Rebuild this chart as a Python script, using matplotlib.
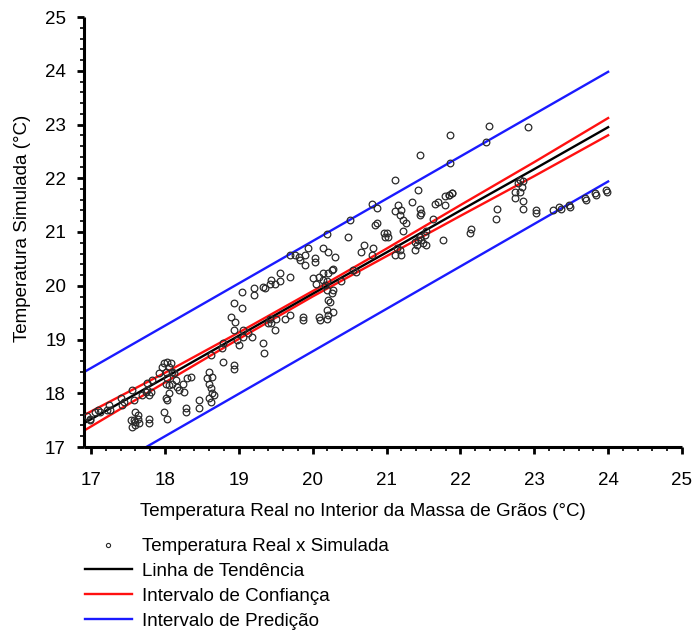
import numpy as np
import matplotlib
matplotlib.use("Agg")
import matplotlib.pyplot as plt
from matplotlib.lines import Line2D
from matplotlib.ticker import MultipleLocator

plt.rcParams['font.family'] = ['Liberation Sans', 'DejaVu Sans']

real_temp = [
    16.95, 16.99, 17.09, 17.12, 17.24, 17.26, 17.40, 17.42, 17.56, 17.58, 17.60, 17.63, 17.58, 17.56, 17.60, 17.65,
    17.76, 17.74, 17.78, 17.83, 17.92, 17.96, 17.99, 18.03, 18.06, 18.08, 18.01, 18.10, 18.12, 18.03, 18.01, 18.06,
    18.10, 18.15, 18.17, 18.19, 18.26, 18.24, 18.30, 18.35, 18.06, 18.01, 18.03, 17.99, 18.03, 17.78, 17.78, 18.28,
    18.28, 18.46, 18.46, 18.60, 18.57, 18.60, 18.64, 18.62, 18.64, 18.66, 18.60, 18.62, 18.78, 18.93, 18.93, 18.62,
    18.78, 18.98, 19.00, 19.12, 19.18, 19.34, 17.76, 17.81, 17.69, 17.54, 17.60, 17.63, 17.45, 17.22, 17.06, 16.99,
    20.19, 20.48, 19.94, 19.69, 19.76, 19.81, 19.90, 19.83, 19.90, 20.03, 20.03, 20.14, 20.21, 20.30, 19.56, 19.69,
    19.44, 19.42, 19.33, 19.35, 19.56, 19.49, 19.20, 19.20, 19.04, 18.93, 19.04, 18.90, 18.95, 18.93, 19.06, 19.06,
    18.77, 19.33, 19.42, 19.44, 19.40, 19.49, 19.51, 19.63, 19.69, 19.87, 19.87, 20.08, 20.10, 20.19, 20.21, 20.28,
    20.19, 20.21, 20.23, 20.26, 20.19, 20.28, 20.17, 20.08, 20.01, 20.05, 20.14, 20.21, 20.26, 20.28, 20.14, 20.19,
    20.39, 20.55, 20.59,
    20.51, 20.84, 20.87, 20.69, 20.82, 20.66, 20.80, 20.80, 20.87,
    21.11, 21.43, 21.16, 21.20, 21.11, 21.18, 21.34, 21.23, 21.27, 21.23, 20.96, 21.00, 20.98, 21.02, 21.45, 21.47,
    21.45, 21.65, 21.70, 21.79, 21.84, 21.88, 21.79, 21.63, 22.49, 22.48, 22.15, 22.13, 21.54, 21.52, 21.45, 21.43,
    21.47, 21.38, 21.41, 21.50, 21.54, 21.77, 21.38, 21.18, 21.11, 21.20, 21.14, 21.45,
    22.39, 22.92, 21.86, 22.35, 21.86, 21.88, 21.84, 22.81, 22.85, 22.78, 22.83, 22.74, 22.81, 22.74, 22.85, 22.85,
    23.03, 23.03, 23.26, 23.34, 23.36, 23.47, 23.48, 23.69, 23.70, 23.82, 23.84, 23.97, 23.98,
]
sim_temp = [
    17.58, 17.53, 17.69, 17.66, 17.78, 17.69, 17.91, 17.78, 18.06, 17.88, 17.66, 17.60, 17.50, 17.38, 17.41, 17.44,
    18.19, 18.03, 17.97, 18.25, 18.37, 18.49, 18.56, 18.59, 18.49, 18.56, 18.40, 18.40, 18.37, 18.28, 18.18, 18.15,
    18.18, 18.25, 18.12, 18.06, 18.03, 18.18, 18.28, 18.31, 18.00, 17.91, 17.88, 17.66, 17.53, 17.53, 17.44, 17.72,
    17.66, 17.88, 17.72, 18.40, 18.28, 18.18, 18.31, 18.09, 18.00, 17.97, 17.91, 17.84, 18.59, 18.53, 18.46, 18.71,
    18.93, 18.99, 18.90, 19.12, 19.05, 18.74, 18.06, 18.03, 17.97, 17.50, 17.47, 17.53, 17.84, 17.69, 17.66, 17.50,
    20.96, 20.91, 20.70, 20.57, 20.57, 20.54, 20.57, 20.48, 20.39, 20.51, 20.45, 20.70, 20.63, 20.54, 20.23, 20.17,
    20.11, 20.04, 19.98, 19.95, 20.08, 20.04, 19.95, 19.83, 19.89, 19.67, 19.58, 19.42, 19.33, 19.18, 19.18, 19.05,
    18.84, 18.93, 19.39, 19.30, 19.30, 19.18, 19.39, 19.39, 19.46, 19.42, 19.36, 19.42, 19.36, 19.39, 19.46, 19.52,
    19.55, 19.73, 19.69, 19.86, 19.92, 19.92, 20.01, 20.17, 20.14, 20.04, 20.23, 20.23, 20.29, 20.32, 20.11, 20.08,
    20.08, 20.29, 20.26,
    21.22, 21.13, 21.16, 20.76, 20.70, 20.63, 20.57, 21.53, 21.44,
    21.97, 21.79, 21.50, 21.41, 21.40, 21.32, 21.55, 21.22, 21.16, 21.01, 20.98, 20.98, 20.91, 20.90, 21.42, 21.35,
    21.32, 21.53, 21.56, 21.67, 21.69, 21.72, 21.50, 21.24, 21.42, 21.25, 21.05, 20.99, 21.01, 20.94, 20.91, 20.85,
    20.85, 20.82, 20.76, 20.79, 20.76, 20.85, 20.66, 20.66, 20.57, 20.57, 20.70, 22.43,
    22.97, 22.95, 22.80, 22.68, 22.28, 21.73, 21.69, 21.97, 21.95, 21.91, 21.84, 21.75, 21.75, 21.63, 21.58, 21.43,
    21.41, 21.35, 21.41, 21.46, 21.42, 21.50, 21.47, 21.63, 21.60, 21.72, 21.69, 21.78, 21.75,
]

# Regression lines
fit_x = [16.9, 18.0, 19.0, 20.0, 21.0, 22.0, 23.0, 24.0]
trend_y = [17.44, 18.29, 19.07, 19.85, 20.62, 21.40, 22.17, 22.95]
conf_upper = [17.59, 18.38, 19.13, 19.90, 20.69, 21.50, 22.30, 23.12]
conf_lower = [17.30, 18.20, 19.01, 19.80, 20.55, 21.30, 22.04, 22.80]
pred_x = [16.9, 24.0]
pred_upper = [18.39, 23.98]
pred_lower = [16.33, 21.94]

W, H = 694, 633
fig = plt.figure(figsize=(W / 100, H / 100), dpi=100)
fig.set_facecolor("white")
ax = fig.add_axes([84 / W, 1 - 447 / H, (682 - 84) / W, (447 - 17) / H])

ax.plot(pred_x, pred_upper, color="#1a1aff", lw=1.7, zorder=2)
ax.plot(pred_x, pred_lower, color="#1a1aff", lw=1.7, zorder=2)
ax.plot(fit_x, conf_upper, color="#ff1010", lw=1.7, zorder=2)
ax.plot(fit_x, conf_lower, color="#ff1010", lw=1.7, zorder=2)
ax.plot(fit_x, trend_y, color="black", lw=1.7, zorder=2)
ax.plot(real_temp, sim_temp, ls="none", marker="o", ms=4.8, mfc="none",
        mec="#2a2a2a", mew=0.9, zorder=3)

ax.set_xlim(16.905, 25)
ax.set_ylim(17, 25)
ax.xaxis.set_major_locator(MultipleLocator(1))
ax.xaxis.set_minor_locator(MultipleLocator(0.2))
ax.yaxis.set_major_locator(MultipleLocator(1))
ax.yaxis.set_minor_locator(MultipleLocator(0.2))

for side in ["top", "right"]:
    ax.spines[side].set_visible(False)
for side in ["left", "bottom"]:
    ax.spines[side].set_linewidth(2.2)
    ax.spines[side].set_capstyle("butt")

ax.tick_params(which="major", direction="out", length=5, width=2, labelsize=13.5)
ax.tick_params(which="minor", direction="out", length=3, width=1.2)
ax.tick_params(axis="x", which="major", pad=13)
ax.tick_params(axis="y", which="major", pad=8)

ax.set_xlabel("Temperatura Real no Interior da Massa de Grãos (°C)", fontsize=13.5, va="center")
ax.xaxis.set_label_coords((363 - 84) / 598, (447 - 511) / 430)
ax.set_ylabel("Temperatura Simulada (°C)", fontsize=13.5, va="center")
ax.yaxis.set_label_coords((23 - 84) / 598, (447 - 228) / 430)

handles = [
    Line2D([], [], ls="none", marker="o", ms=3, mfc="none", mec="#2a2a2a", mew=0.8),
    Line2D([], [], color="black", lw=1.7),
    Line2D([], [], color="#ff1010", lw=1.7),
    Line2D([], [], color="#1a1aff", lw=1.7),
]
labels = ["Temperatura Real x Simulada", "Linha de Tendência",
          "Intervalo de Confiança", "Intervalo de Predição"]
fig.legend(handles, labels, loc="upper left", bbox_to_anchor=(85 / W, 1 - 538 / H),
           frameon=False, fontsize=13.5, borderpad=0, borderaxespad=0,
           handlelength=2.5, handletextpad=0.55, labelspacing=0.41)

fig.savefig("out.png", dpi=100, facecolor="white")
